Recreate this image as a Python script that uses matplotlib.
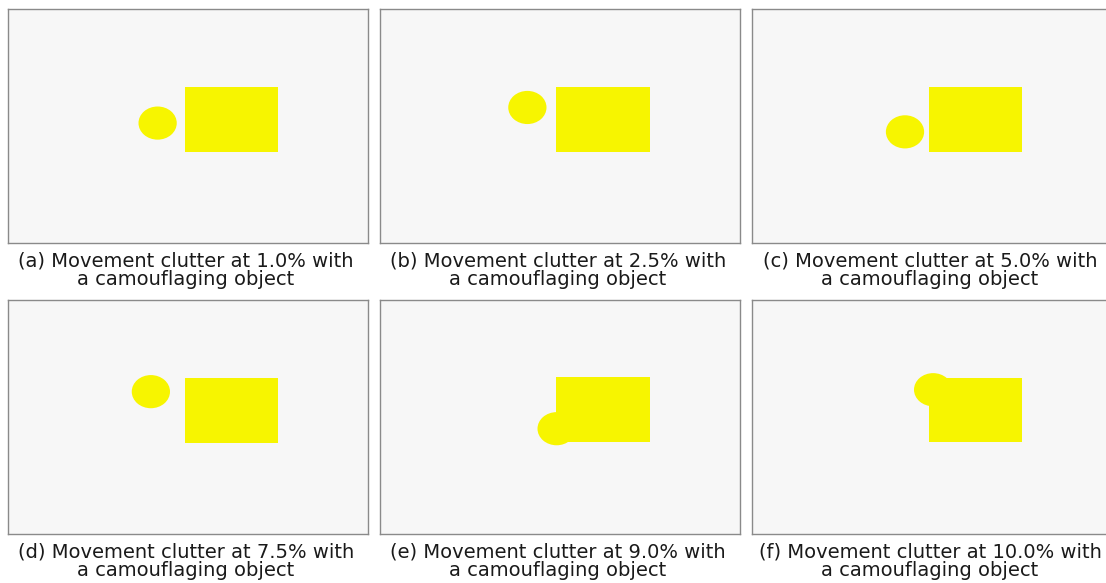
import matplotlib
matplotlib.use('Agg')
import matplotlib.pyplot as plt
from matplotlib.patches import Ellipse, Rectangle


# scene is drawn in a 320x240 frame, y pointing down
frame_w = 320
frame_h = 240

labels = ['(a)', '(b)', '(c)', '(d)', '(e)', '(f)']
clutter = ['1.0%', '2.5%', '5.0%', '7.5%', '9.0%', '10.0%']

# camouflaging object (circle) centre per panel
circle_x = [133, 131, 136, 127, 157, 161]
circle_y = [117, 101, 126, 94, 132, 92]
circle_r = 17

# static rectangle per panel: left, top, right, bottom
rect_x0 = [157, 156, 157, 157, 156, 157]
rect_y0 = [80, 80, 80, 80, 79, 80]
rect_x1 = [240, 240, 240, 240, 240, 240]
rect_y1 = [147, 147, 147, 147, 146, 146]

bg = '#f7f7f7'
yellow = '#f7f500'
border = '#8a8a8a'

W, H = 1106, 583
fig = plt.figure(figsize=(W / 100, H / 100), dpi=100)
fig.patch.set_facecolor('white')

col_left = [8, 380, 752]
row_top = [9, 300]
pw, ph = 360, 234

for i in range(6):
    r, c = divmod(i, 3)
    x0 = col_left[c]
    y0 = row_top[r]
    ax = fig.add_axes([x0 / W, 1 - (y0 + ph) / H, pw / W, ph / H])
    ax.set_facecolor(bg)
    ax.set_xlim(0, frame_w)
    ax.set_ylim(frame_h, 0)
    ax.set_xticks([])
    ax.set_yticks([])
    for s in ax.spines.values():
        s.set_color(border)
        s.set_linewidth(1.0)

    ax.add_patch(Rectangle((rect_x0[i], rect_y0[i]),
                           rect_x1[i] - rect_x0[i], rect_y1[i] - rect_y0[i],
                           facecolor=yellow, edgecolor='none'))
    ax.add_patch(Ellipse((circle_x[i], circle_y[i]), 2 * circle_r, 2 * circle_r,
                         facecolor=yellow, edgecolor='none'))

    cx = (x0 + pw / 2 - 2) / W
    fig.text(cx, 1 - (y0 + ph + 18) / H,
             '%s Movement clutter at %s with' % (labels[i], clutter[i]),
             ha='center', va='center', fontsize=14, color='#1a1a1a',
             family='DejaVu Sans')
    fig.text(cx, 1 - (y0 + ph + 37) / H, 'a camouflaging object',
             ha='center', va='center', fontsize=14, color='#1a1a1a',
             family='DejaVu Sans')

fig.savefig('out.png', dpi=100)
